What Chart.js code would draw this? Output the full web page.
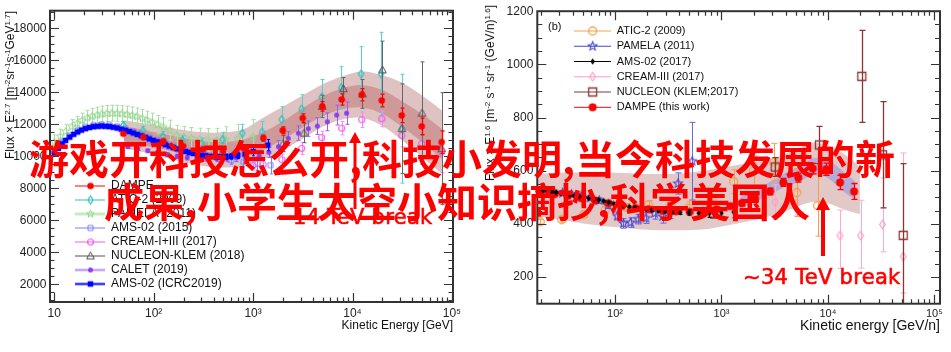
<!DOCTYPE html>
<html lang="zh">
<head>
<meta charset="utf-8">
<title>质子与氦能谱</title>
<script src="https://cdn.jsdelivr.net/npm/chart.js@4.4.1/dist/chart.umd.min.js"></script>
<style>
  html, body { margin: 0; padding: 0; background: #fff; }
  #stage { position: relative; width: 951px; height: 352px; overflow: hidden; background: #fff; }
  canvas { position: absolute; top: 0; }
  #cL { left: 0; }
  #cR { left: 480px; }
  .ytitle { position: absolute; font-family: 'Liberation Sans', Arial, sans-serif; font-size: 12px; line-height: 14px; color: #111; white-space: nowrap; transform-origin: 0 0; transform: rotate(-90deg) translateX(-100%); }
  .ytitle sup { font-size: 8px; position: relative; top: -4px; vertical-align: baseline; line-height: 0; }
  .tag { position: absolute; font-family: 'Liberation Sans', Arial, sans-serif; font-size: 11px; line-height: 13px; color: #111; }
  .cn { position: absolute; font-family: 'Noto Sans CJK SC', sans-serif; font-weight: 700; font-size: 40px; line-height: 43px; color: #ff0000; white-space: nowrap; z-index: 5; }
  .brk { position: absolute; font-family: 'DejaVu Sans', sans-serif; font-size: 21px; line-height: 25px; color: #ff0000; white-space: nowrap; z-index: 4; -webkit-text-stroke: 0.6px #ff0000; letter-spacing: 0.3px; }
  svg.arr { position: absolute; left: 0; top: 0; z-index: 4; pointer-events: none; }
</style>
</head>
<body>
<div id="stage">
  <canvas id="cL" width="475" height="352"></canvas>
  <canvas id="cR" width="471" height="352"></canvas>
  <div class="ytitle" style="left:3px; top:11px;">Flux × E<sup>2.7</sup> [m<sup>-2</sup>sr<sup>-1</sup>s<sup>-1</sup>GeV<sup>1.7</sup>]</div>
  <div class="ytitle" style="left:483px; top:5px;">Flux × E<sup>1.6</sup> [m<sup>-2</sup> s<sup>-1</sup> sr<sup>-1</sup> (GeV/n)<sup>1.6</sup>]</div>
  <div class="tag" style="left:548px; top:20px;">(b)</div>
  <div class="brk" style="left:275px; top:204.5px;">~14 TeV break</div>
  <div class="brk" style="left:743px; top:264.5px;">~34 TeV break</div>
  <svg class="arr" width="951" height="352">
    <line x1="355" y1="209" x2="355" y2="140" stroke="#ff0000" stroke-width="3"/>
    <polygon points="349,143 355,132 361,143" fill="#ff0000"/>
    <line x1="823" y1="256" x2="823" y2="207" stroke="#ff0000" stroke-width="4"/>
    <polygon points="816,210 823,197 830,210" fill="#ff0000"/>
  </svg>
  <div class="cn" style="left:29px; top:136px;">游戏开科技怎么开,科技小发明,当今科技发展的新</div>
  <div class="cn" style="left:104px; top:179px;">成果,小学生太空小知识摘抄,科学美国人</div>
</div>
<script>
// ================= Panel (a): proton, Flux x E^2.7 =================
const xTicksA = [10, 100, 1000, 10000, 100000];
const xTickLabelsA = ['10', '10²', '10³', '10⁴', '10⁵'];
const yTicksA = [2000, 4000, 6000, 8000, 10000, 12000, 14000, 16000, 18000];
const yTickLabelsA = ['2000', '4000', '6000', '8000', '10000', '12000', '14000', '16000', '18000'];

const dampeA_E = [49.4, 78.6, 125, 198, 314, 498, 790, 1268, 1986, 3157, 4968, 7780, 12390, 19680, 31260, 49660, 78850];
const dampeA_V = [11415, 11204, 10955, 10640, 10450, 10350, 10550, 11140, 11620, 12390, 13120, 13555, 13850, 13490, 12560, 11870, 10890];
const dampeA_Err = [60, 60, 70, 80, 90, 110, 140, 180, 220, 260, 300, 350, 380, 400, 450, 520, 700];

const bandA_E = [50, 80, 125, 200, 315, 500, 800, 1250, 2000, 3150, 5000, 7900, 12500, 20000, 31500, 50000, 80000];
const bandA_outerLo = [10500, 10250, 9950, 9650, 9400, 9300, 9400, 9800, 10400, 11100, 11850, 12300, 12400, 11900, 11000, 9950, 8900];
const bandA_innerLo = [10950, 10700, 10450, 10150, 9950, 9850, 10000, 10400, 11050, 11800, 12500, 12950, 13050, 12650, 11850, 10900, 9800];
const bandA_innerHi = [11900, 11650, 11400, 11150, 10950, 10900, 11050, 11500, 12200, 13000, 13750, 14250, 14450, 14150, 13450, 12650, 11700];
const bandA_outerHi = [12250, 12050, 11850, 11650, 11500, 11500, 11700, 12400, 13100, 13800, 14500, 15000, 15300, 15050, 14600, 13800, 12850];

const aticA_E = [49.5, 78, 124, 195, 304, 495, 780, 1230, 1940, 3080, 4900, 7700, 12200, 19400, 31400];
const aticA_V = [11930, 11600, 11250, 10990, 10790, 11050, 11450, 11520, 12300, 12950, 13700, 14300, 15150, 15150, 11730];
const aticA_Err = [250, 280, 300, 320, 350, 450, 550, 650, 800, 900, 1100, 1300, 1700, 2600, 3400];

const pamelaA_E = [10, 11.5, 13, 15, 17, 19, 21.5, 24, 27, 30, 34, 38, 43, 48, 54, 61, 68, 77, 86, 97, 110, 125, 145, 170, 200, 240, 290, 350, 430, 530, 700, 1000];
const pamelaA_V = [10900, 11250, 11550, 11850, 12050, 12250, 12400, 12500, 12580, 12640, 12680, 12700, 12690, 12660, 12620, 12560, 12480, 12380, 12260, 12130, 11980, 11820, 11640, 11300, 11200, 11120, 11060, 11020, 11000, 11050, 11100, 11200];
const pamelaA_Err = [450, 450, 450, 450, 450, 450, 470, 480, 490, 500, 500, 500, 500, 510, 520, 530, 540, 550, 560, 570, 580, 600, 620, 640, 660, 680, 700, 720, 750, 800, 900, 1100];

const ams15A_E = [10, 12, 14.3, 17.2, 20.6, 24.8, 29.8, 35.8, 43, 51.8, 62.3, 74.9, 90.2, 108.6, 130.9, 157.7, 190, 229, 276, 332, 400, 483, 600, 800, 1100, 1500];
const ams15A_V = [10300, 10900, 11300, 11620, 11830, 11950, 11990, 11960, 11870, 11730, 11560, 11380, 11190, 11000, 10820, 10640, 10470, 10310, 10180, 10090, 10030, 10000, 9750, 9650, 9550, 9450];
const ams15A_Err = [60, 60, 60, 60, 60, 60, 60, 60, 60, 60, 70, 70, 80, 80, 90, 100, 110, 120, 140, 160, 180, 210, 250, 320, 420, 550];

const creamA_E = [1000, 1260, 1950, 3080, 4890, 7780, 12390, 19700, 31300, 49700, 78900];
const creamA_V = [9420, 9500, 9790, 10500, 11170, 11760, 12290, 12350, 11300, 10800, 10270];
const creamA_Err = [280, 300, 350, 380, 400, 420, 480, 500, 700, 900, 1300];

const nucleonA_E = [2000, 3250, 4960, 8100, 12600, 20000, 31400, 50000, 78900];
const nucleonA_V = [10800, 11450, 13120, 14220, 13900, 15400, 11730, 12700, 10480];
const nucleonA_Err = [500, 600, 700, 700, 900, 1800, 2800, 3200, 3500];

const caletA_E = [55, 69, 87, 109, 137, 172, 217, 272, 342, 430, 541, 680, 855, 1150, 1440, 1800, 2260, 2850, 3590, 4430, 5580, 6930, 8720];
const caletA_V = [10600, 10470, 10350, 10230, 10110, 10000, 9920, 9870, 9850, 9860, 9880, 9910, 9950, 10060, 10250, 10600, 11120, 11450, 11730, 11890, 12160, 12580, 12700];
const caletA_Err = [100, 100, 100, 110, 120, 130, 140, 150, 170, 190, 210, 240, 270, 300, 330, 380, 420, 450, 480, 520, 560, 620, 700];

const ams19A_E = [10, 11, 12, 13, 14.3, 15.7, 17.2, 18.8, 20.6, 22.6, 24.8, 27.2, 29.8, 32.7, 35.8, 39.2, 43, 47.2, 51.8, 56.8, 62.3, 68.3, 74.9, 82.2, 90.2, 99, 108.6, 119.2, 130.9, 143.6, 157.7, 173.1, 190, 208.6, 229, 251, 276, 302, 332, 364, 400, 440, 483, 530, 600, 700, 830, 1000, 1400];
const ams19A_V = [10200, 10500, 10780, 11000, 11200, 11380, 11520, 11640, 11730, 11800, 11850, 11880, 11890, 11880, 11860, 11820, 11770, 11700, 11630, 11550, 11460, 11370, 11280, 11190, 11090, 11000, 10910, 10820, 10730, 10640, 10550, 10470, 10390, 10310, 10240, 10180, 10120, 10070, 10030, 10000, 9980, 9970, 9970, 9980, 10000, 10060, 10150, 10300, 10700];
const ams19A_Err = [40, 40, 40, 40, 40, 40, 40, 40, 40, 40, 40, 40, 40, 40, 40, 40, 40, 40, 40, 40, 40, 40, 40, 40, 50, 50, 50, 50, 50, 60, 60, 60, 60, 70, 70, 80, 80, 90, 100, 110, 120, 130, 140, 160, 180, 200, 230, 270, 350];

// ================= Panel (b): helium, Flux x E^1.6 =================
const xTicksB = [100, 1000, 10000, 100000];
const xTickLabelsB = ['10²', '10³', '10⁴', '10⁵'];
const yTicksB = [200, 400, 600, 800, 1000, 1200];
const yTickLabelsB = ['200', '400', '600', '800', '1000', '1200'];

const pinkB_E = [19, 30, 50, 100, 200, 400, 700, 1000, 2000, 3000, 5000, 7000, 10000, 14000, 20000];
const pinkB_Lo = [428, 418, 402, 388, 378, 376, 380, 390, 415, 432, 462, 482, 478, 455, 436];
const pinkB_Hi = [588, 592, 593, 592, 588, 590, 600, 612, 632, 645, 680, 705, 695, 665, 615];
const blueB_E = [1500, 2000, 2500, 3000, 4000, 5500, 7300, 10000, 13500, 18000];
const blueB_Lo = [462, 478, 500, 515, 540, 560, 585, 572, 527, 490];
const blueB_Hi = [500, 520, 545, 562, 592, 618, 648, 642, 602, 560];

const aticB_E = [19.8, 31.6, 50.6, 80.5, 130, 207, 330, 493, 800, 1300, 2000, 3100, 5100, 8000];
const aticB_V = [408, 416, 435, 452, 462, 472, 468, 460, 500, 559, 600, 633, 518, 469];
const aticB_Err = [8, 9, 10, 12, 14, 16, 20, 25, 32, 45, 55, 70, 90, 115];

const pamelaB_E = [21, 26, 32, 39, 48, 58, 71, 86, 105, 120, 140, 165, 195, 235, 280, 330, 390, 530];
const pamelaB_V = [527, 521, 516, 511, 505, 498, 488, 470, 430, 402, 405, 418, 422, 440, 428, 450, 552, 636];
const pamelaB_Err = [8, 8, 8, 8, 9, 9, 10, 12, 15, 18, 18, 18, 20, 22, 25, 30, 40, 146];

const amsB_E = [19, 21, 23, 25.5, 28, 31, 34, 37.5, 41.5, 46, 51, 56.5, 63, 70, 78, 87, 97, 108, 121, 136, 153, 172, 195, 222, 255, 295, 345, 410, 495, 610, 770, 1000, 1300];
const amsB_V = [530, 527, 524, 521, 518, 515, 512, 509, 506, 503, 500, 497, 494, 490, 486, 481, 476, 472, 468, 464, 461, 458, 455, 452, 450, 448, 446, 444, 443, 441, 440, 441, 445];
const amsB_Err = [3, 3, 3, 3, 3, 3, 3, 3, 3, 3, 3, 3, 3, 3, 3, 3, 3, 3, 3, 3, 4, 4, 4, 5, 5, 6, 7, 8, 10, 12, 15, 18, 22];

const creamB_E = [3185, 5100, 13000, 20300, 32600, 51000];
const creamB_V = [482, 478, 356, 356, 398, 277];
const creamB_ErrUp = [65, 45, 96, 133, 175, 390];
const creamB_ErrDn = [65, 45, 123, 122, 103, 137];

const nucleonB_E = [839, 3200, 8320, 20800, 32600, 51000];
const nucleonB_V = [440, 614, 697, 955, 660, 357];
const nucleonB_ErrUp = [18, 35, 70, 173, 200, 270];
const nucleonB_ErrDn = [18, 35, 70, 173, 200, 260];

const dampeB_E = [20, 27, 36, 48, 65, 87, 116, 156, 209, 280, 375, 502, 673, 900, 1206, 1549, 2066, 2857, 3811, 5270, 7210, 9610, 13000, 17620];
const dampeB_V = [520, 512, 505, 497, 488, 478, 468, 460, 455, 450, 447, 446, 448, 455, 467, 478, 497, 522, 556, 574, 608, 606, 556, 522];
const dampeB_Err = [4, 4, 4, 4, 4, 4, 5, 5, 5, 5, 6, 6, 7, 8, 9, 10, 11, 13, 15, 17, 20, 23, 27, 30];

// ================= helpers =================
const FONT = "'Liberation Sans', Arial, sans-serif";
Chart.defaults.font.family = FONT;

function marker(shape, color, size, filled, lw) {
  let s = Math.ceil(size + lw + 2);
  if (s % 2 === 0) s++;
  const c = document.createElement('canvas');
  c.width = s; c.height = s;
  const g = c.getContext('2d');
  const m = s / 2, r = size / 2;
  g.lineWidth = lw; g.strokeStyle = color; g.fillStyle = color;
  g.beginPath();
  if (shape === 'circle') {
    g.arc(m, m, r, 0, Math.PI * 2);
  } else if (shape === 'square') {
    g.rect(m - r, m - r, 2 * r, 2 * r);
  } else if (shape === 'diamond') {
    g.moveTo(m, m - r); g.lineTo(m + r * 0.68, m); g.lineTo(m, m + r); g.lineTo(m - r * 0.68, m); g.closePath();
  } else if (shape === 'triangle') {
    g.moveTo(m, m - r); g.lineTo(m + r * 0.95, m + r * 0.72); g.lineTo(m - r * 0.95, m + r * 0.72); g.closePath();
  } else if (shape === 'star') {
    for (let k = 0; k < 10; k++) {
      const ang = -Math.PI / 2 + k * Math.PI / 5;
      const rr = (k % 2) ? r * 0.45 : r;
      const px = m + rr * Math.cos(ang), py = m + rr * Math.sin(ang);
      if (k === 0) g.moveTo(px, py); else g.lineTo(px, py);
    }
    g.closePath();
  }
  if (filled) g.fill(); else g.stroke();
  return c;
}

function legendIcon(w, h, color, lineW, mk) {
  const c = document.createElement('canvas');
  c.width = w; c.height = h;
  const g = c.getContext('2d');
  g.strokeStyle = color; g.lineWidth = lineW;
  g.beginPath(); g.moveTo(0, h / 2); g.lineTo(w, h / 2); g.stroke();
  g.drawImage(mk, Math.round((w - mk.width) / 2), Math.round((h - mk.height) / 2));
  return c;
}

function pts(E, V) { return E.map((e, i) => ({ x: e, y: V[i] })); }

function scatterSet(o) {
  const mk = marker(o.shape, o.color, o.size, o.filled, o.lw || 1);
  const dn = o.dn || o.up;
  return {
    type: 'scatter',
    label: o.label,
    data: pts(o.E, o.V),
    errLo: o.V.map((v, i) => v - dn[i]),
    errHi: o.V.map((v, i) => v + o.up[i]),
    errColor: o.errColor || o.color,
    errWidth: o.errWidth || 1,
    capW: o.cap,
    pointStyle: mk,
    pointRadius: 3,
    borderWidth: 0,
    backgroundColor: o.color,
    borderColor: o.color,
    order: o.order,
    legendRank: o.rank,
    legendIcon: legendIcon(o.iconW, 13, o.lineColor || o.color, o.lineW || 1, mk)
  };
}

function bandSets(E, lo, hi, color, order) {
  return [
    { type: 'line', data: pts(E, hi), borderWidth: 0, borderColor: 'rgba(0,0,0,0)', pointRadius: 0, fill: '+1', backgroundColor: color, tension: 0.35, order },
    { type: 'line', data: pts(E, lo), borderWidth: 0, borderColor: 'rgba(0,0,0,0)', pointRadius: 0, fill: false, tension: 0.35, order }
  ];
}

const errBarsPlugin = {
  id: 'errBars',
  beforeDatasetDraw(chart, args) {
    const ds = chart.data.datasets[args.index];
    if (!ds.errLo) return;
    const { ctx, chartArea: a } = chart;
    const xs = chart.scales.x, ys = chart.scales.y;
    ctx.save();
    ctx.beginPath(); ctx.rect(a.left, a.top, a.right - a.left, a.bottom - a.top); ctx.clip();
    ctx.strokeStyle = ds.errColor; ctx.lineWidth = ds.errWidth;
    ctx.beginPath();
    ds.data.forEach((p, i) => {
      const px = Math.round(xs.getPixelForValue(p.x)) + 0.5;
      const y1 = ys.getPixelForValue(ds.errLo[i]);
      const y2 = ys.getPixelForValue(ds.errHi[i]);
      const c = ds.capW;
      ctx.moveTo(px, y1); ctx.lineTo(px, y2);
      ctx.moveTo(px - c, y1); ctx.lineTo(px + c, y1);
      ctx.moveTo(px - c, y2); ctx.lineTo(px + c, y2);
    });
    ctx.stroke();
    ctx.restore();
  }
};

function frameTicksPlugin(cfg) {
  return {
    id: 'frameTicks',
    afterDatasetsDraw(chart) {
      const { ctx, chartArea: a } = chart;
      const xs = chart.scales.x, ys = chart.scales.y;
      ctx.save();
      ctx.strokeStyle = cfg.color;
      ctx.lineWidth = cfg.tickWidth;
      ctx.beginPath();
      const d0 = Math.floor(Math.log10(xs.min)), d1 = Math.ceil(Math.log10(xs.max));
      for (let d = d0; d <= d1; d++) {
        for (let k = 1; k <= 9; k++) {
          const v = k * Math.pow(10, d);
          if (v < xs.min || v > xs.max) continue;
          const px = Math.round(xs.getPixelForValue(v)) + 0.5;
          const len = k === 1 ? cfg.xMajor : cfg.xMinor;
          ctx.moveTo(px, a.bottom); ctx.lineTo(px, a.bottom - len);
          ctx.moveTo(px, a.top); ctx.lineTo(px, a.top + len);
        }
      }
      for (let v = cfg.yStart; v <= ys.max; v += cfg.yMinorStep) {
        const py = Math.round(ys.getPixelForValue(v)) + 0.5;
        const len = (v % cfg.yMajorStep === 0) ? cfg.yMajor : cfg.yMinor;
        ctx.moveTo(a.left, py); ctx.lineTo(a.left + len, py);
        ctx.moveTo(a.right, py); ctx.lineTo(a.right - len, py);
      }
      ctx.stroke();
      ctx.lineWidth = cfg.frameWidth;
      ctx.strokeRect(a.left, a.top, a.right - a.left, a.bottom - a.top);
      ctx.restore();
    }
  };
}

function legendPlacePlugin(left, top) {
  return {
    id: 'legendPlace',
    afterLayout(chart) {
      const lg = chart.legend;
      if (!lg) return;
      const w = lg.width, h = lg.height;
      lg.left = left; lg.top = top;
      lg.right = left + w + 200; lg.bottom = top + h + 40;
      lg.width = w; lg.height = h;
    }
  };
}

function legendItems(chart) {
  return chart.data.datasets
    .map((ds, i) => ({ ds, i }))
    .filter(o => o.ds.legendRank != null)
    .sort((p, q) => p.ds.legendRank - q.ds.legendRank)
    .map(o => ({ text: o.ds.label, pointStyle: o.ds.legendIcon, datasetIndex: o.i, hidden: false,
                 fontColor: '#111', fillStyle: 'rgba(0,0,0,0)', strokeStyle: 'rgba(0,0,0,0)', lineWidth: 0 }));
}

function panelOptions(c) {
  return {
    responsive: false, animation: false, devicePixelRatio: 1, events: [],
    layout: { padding: c.pad },
    plugins: {
      tooltip: { enabled: false },
      legend: {
        display: true, position: 'chartArea', align: 'start',
        labels: { usePointStyle: true, pointStyleWidth: c.boxW, boxHeight: c.legFont, padding: c.legPad,
                  font: { family: FONT, size: c.legFont }, color: '#111', generateLabels: legendItems }
      }
    },
    scales: {
      x: {
        type: 'logarithmic', min: c.xMin, max: c.xMax, bounds: 'data',
        grid: { display: false, drawTicks: false }, border: { display: false },
        ticks: { autoSkip: false, maxRotation: 0, padding: c.xPad, color: '#222', font: { family: FONT, size: c.xFont },
                 callback: (v, i) => c.xLabels[i] },
        afterBuildTicks: s => { s.ticks = c.xTicks.map(v => ({ value: v })); },
        afterFit: s => { s.height = c.xH; },
        title: { display: true, text: c.xTitle, align: 'end', color: '#111', font: { family: FONT, size: c.xTitleFont },
                 padding: { top: 0, bottom: c.xTitlePad } }
      },
      y: {
        type: 'linear', min: c.yMin, max: c.yMax, bounds: 'data',
        grid: { display: false, drawTicks: false }, border: { display: false },
        ticks: { autoSkip: false, padding: c.yPad, color: '#222', font: { family: FONT, size: 12 },
                 callback: (v, i) => c.yLabels[i] },
        afterBuildTicks: s => { s.ticks = c.yTicks.map(v => ({ value: v })); },
        afterFit: s => { s.width = c.yW; }
      }
    }
  };
}

// ================= chart (a) =================
const dsA = [
  ...bandSets(bandA_E, bandA_outerLo, bandA_outerHi, '#dfc2c2', 100),
  ...bandSets(bandA_E, bandA_innerLo, bandA_innerHi, '#cf9999', 99),
  scatterSet({ label: 'DAMPE', E: dampeA_E, V: dampeA_V, up: dampeA_Err, shape: 'circle', color: '#ff0000', size: 6.5, filled: true, cap: 2, errWidth: 1.3, order: 1, rank: 0, iconW: 30 }),
  scatterSet({ label: 'ATIC-2 (2009)', E: aticA_E, V: aticA_V, up: aticA_Err, shape: 'diamond', color: '#2fbfbf', errColor: '#55d0d0', size: 8, filled: false, lw: 1.2, cap: 2, order: 8, rank: 1, iconW: 30 }),
  scatterSet({ label: 'PAMELA (2011)', E: pamelaA_E, V: pamelaA_V, up: pamelaA_Err, shape: 'star', color: '#8fd48a', errColor: '#a8dfa3', size: 8, filled: false, lw: 1, cap: 2, order: 10, rank: 2, iconW: 30, lineColor: '#c4eabf', lineW: 3 }),
  scatterSet({ label: 'AMS-02 (2015)', E: ams15A_E, V: ams15A_V, up: ams15A_Err, shape: 'square', color: '#7f7fff', size: 5, filled: false, lw: 1, cap: 1.5, order: 9, rank: 3, iconW: 30 }),
  scatterSet({ label: 'CREAM-I+III (2017)', E: creamA_E, V: creamA_V, up: creamA_Err, shape: 'circle', color: '#f05af0', errColor: '#f28cf2', size: 6, filled: false, lw: 1.2, cap: 2, order: 7, rank: 4, iconW: 30 }),
  scatterSet({ label: 'NUCLEON-KLEM (2018)', E: nucleonA_E, V: nucleonA_V, up: nucleonA_Err, shape: 'triangle', color: '#505050', errColor: '#666666', size: 8, filled: false, lw: 1, cap: 2, order: 6, rank: 5, iconW: 30 }),
  scatterSet({ label: 'CALET (2019)', E: caletA_E, V: caletA_V, up: caletA_Err, shape: 'circle', color: '#8a3cf0', errColor: '#9c5cf2', size: 5, filled: true, cap: 2, order: 5, rank: 6, iconW: 30, lineColor: '#b58cf5', lineW: 2 }),
  scatterSet({ label: 'AMS-02 (ICRC2019)', E: ams19A_E, V: ams19A_V, up: ams19A_Err, shape: 'square', color: '#0000ff', size: 5.5, filled: true, cap: 1.5, order: 4, rank: 7, iconW: 30, lineW: 2 })
];

new Chart(document.getElementById('cL'), {
  type: 'scatter',
  data: { datasets: dsA },
  options: panelOptions({
    pad: { left: 0, right: 22, top: 10, bottom: 0 },
    boxW: 30, legFont: 12, legPad: 2,
    xMin: 9.06, xMax: 102500, xTicks: xTicksA, xLabels: xTickLabelsA, xPad: 4.5, xFont: 12, xH: 50,
    xTitle: 'Kinetic Energy [GeV]', xTitleFont: 12, xTitlePad: 18.8,
    yMin: 900, yMax: 19100, yTicks: yTicksA, yLabels: yTickLabelsA, yPad: 3.5, yW: 50
  }),
  plugins: [errBarsPlugin,
            frameTicksPlugin({ color: '#333', tickWidth: 1.2, frameWidth: 2, xMajor: 9, xMinor: 4.5, yStart: 1000, yMinorStep: 500, yMajorStep: 2000, yMajor: 9, yMinor: 4.5 }),
            legendPlacePlugin(73, 178)]
});

// ================= chart (b) =================
const dsB = [
  ...bandSets(pinkB_E, pinkB_Lo, pinkB_Hi, '#e3c8c8', 100),
  ...bandSets(blueB_E, blueB_Lo, blueB_Hi, '#b2acd8', 99),
  scatterSet({ label: 'ATIC-2 (2009)', E: aticB_E, V: aticB_V, up: aticB_Err, shape: 'circle', color: '#f5a048', size: 8, filled: false, lw: 1.3, cap: 3, order: 6, rank: 0, iconW: 37 }),
  scatterSet({ label: 'PAMELA (2011)', E: pamelaB_E, V: pamelaB_V, up: pamelaB_Err, shape: 'star', color: '#4646d2', errColor: '#6868dc', size: 9, filled: false, lw: 1.1, cap: 3, order: 5, rank: 1, iconW: 37 }),
  scatterSet({ label: 'AMS-02 (2017)', E: amsB_E, V: amsB_V, up: amsB_Err, shape: 'diamond', color: '#000000', size: 6.5, filled: true, cap: 2, order: 2, rank: 2, iconW: 37 }),
  scatterSet({ label: 'CREAM-III (2017)', E: creamB_E, V: creamB_V, up: creamB_ErrUp, dn: creamB_ErrDn, shape: 'diamond', color: '#ff9ec6', errColor: '#ffaacd', size: 8.5, filled: false, lw: 1.2, cap: 3, order: 7, rank: 3, iconW: 37 }),
  scatterSet({ label: 'NUCLEON (KLEM;2017)', E: nucleonB_E, V: nucleonB_V, up: nucleonB_ErrUp, dn: nucleonB_ErrDn, shape: 'square', color: '#8b3434', size: 8, filled: false, lw: 1.3, cap: 3, errWidth: 1.3, order: 4, rank: 4, iconW: 37 }),
  scatterSet({ label: 'DAMPE (this work)', E: dampeB_E, V: dampeB_V, up: dampeB_Err, shape: 'circle', color: '#ff0000', size: 8, filled: true, cap: 3, errWidth: 1.3, order: 3, rank: 5, iconW: 37 })
];

new Chart(document.getElementById('cR'), {
  type: 'scatter',
  data: { datasets: dsB },
  options: panelOptions({
    pad: { left: 0, right: 11, top: 7.3, bottom: 0 },
    boxW: 37, legFont: 11, legPad: 4.26,
    xMin: 18.6, xMax: 113000, xTicks: xTicksB, xLabels: xTickLabelsB, xPad: 4, xFont: 11, xH: 48.3,
    xTitle: 'Kinetic energy [GeV/n]', xTitleFont: 14, xTitlePad: 17.6,
    yMin: 100, yMax: 1200, yTicks: yTicksB, yLabels: yTickLabelsB, yPad: 4, yW: 57.3
  }),
  plugins: [errBarsPlugin,
            frameTicksPlugin({ color: '#333', tickWidth: 1.2, frameWidth: 2, xMajor: 9, xMinor: 4.5, yStart: 150, yMinorStep: 50, yMajorStep: 200, yMajor: 9, yMinor: 5 }),
            legendPlacePlugin(89.9, 21.2)]
});
</script>
</body>
</html>
